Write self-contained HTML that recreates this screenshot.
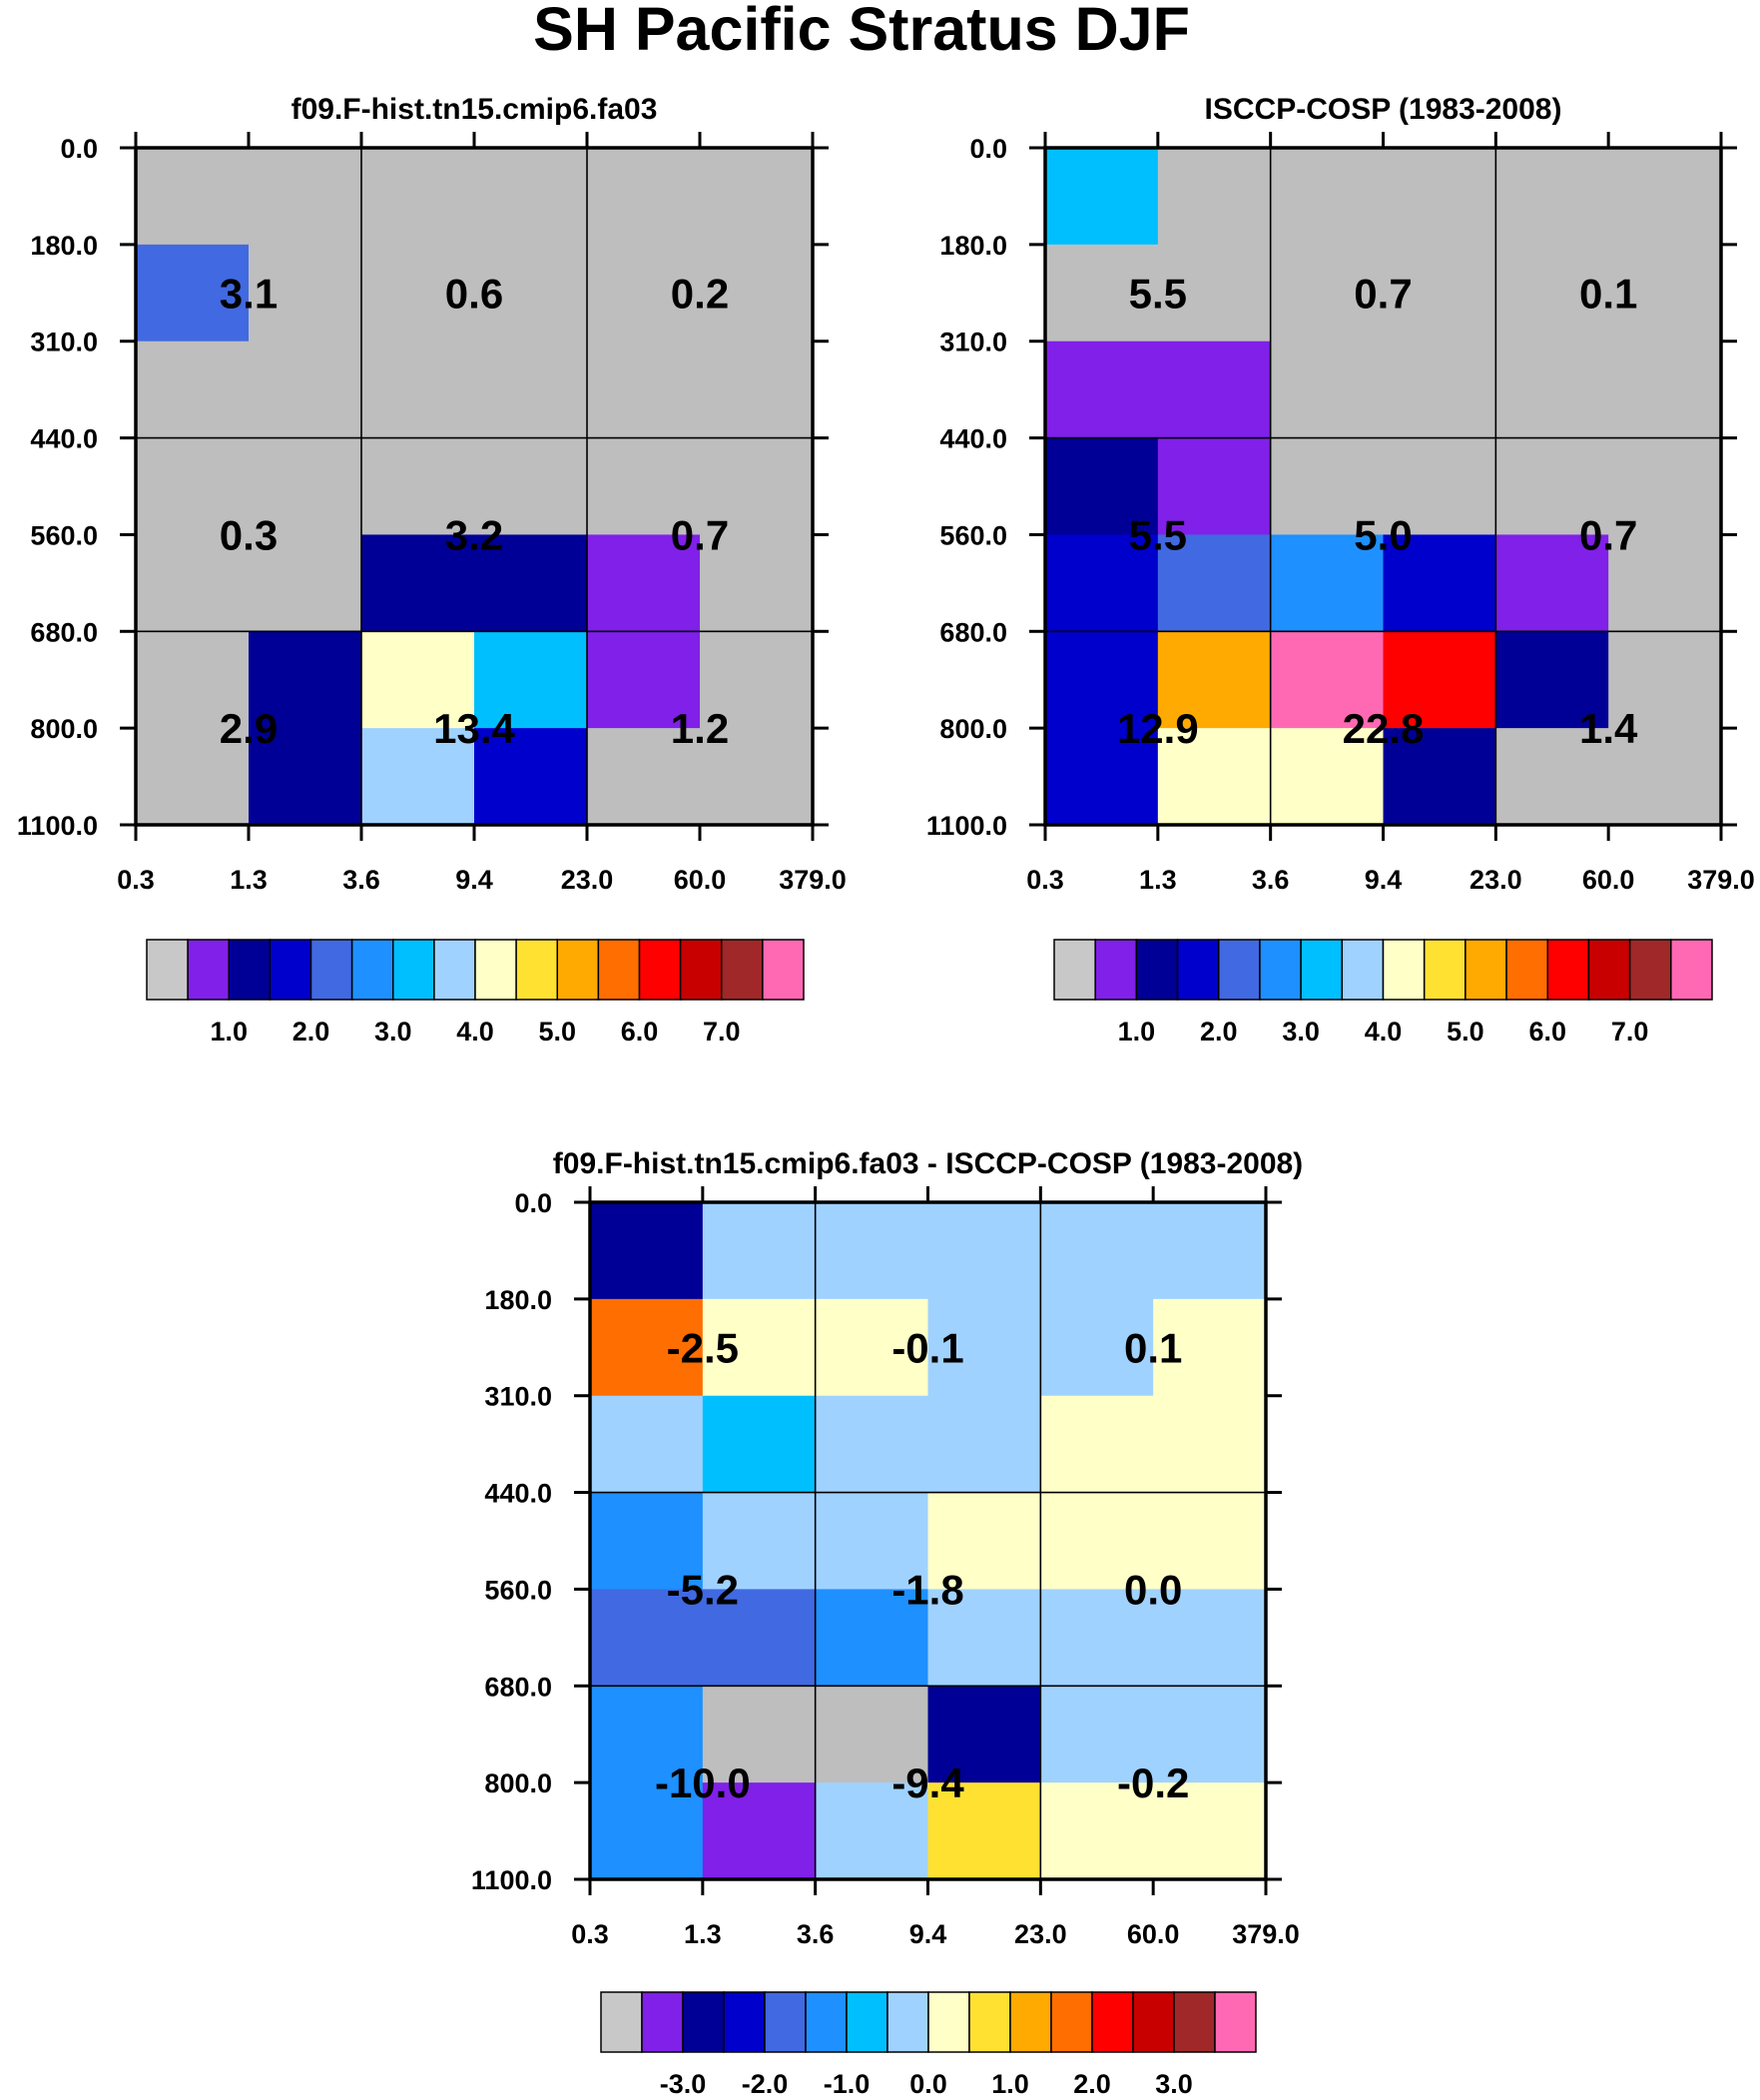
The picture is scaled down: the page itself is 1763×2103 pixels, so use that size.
<!DOCTYPE html>
<html><head><meta charset="utf-8">
<style>
html,body{margin:0;padding:0;background:#fff;}
svg{display:block;font-family:"Liberation Sans",sans-serif;font-weight:bold;}
</style></head>
<body>
<svg id="chart" width="1763" height="2103" viewBox="0 0 1763 2103" xmlns="http://www.w3.org/2000/svg">
<text x="863" y="50" font-size="61" text-anchor="middle">SH Pacific Stratus DJF</text>
</svg>
<script>
const palette = ["#BEBEBE","#8020E8","#000096","#0000CD","#4169E1","#1E90FF","#00BFFF","#A0D2FF","#FFFFC8","#FFE132","#FFAA00","#FF6E00","#FF0000","#C80000","#A02828","#FF69B4"];
const xTicks = ["0.3","1.3","3.6","9.4","23.0","60.0","379.0"];
const yTicks = ["0.0","180.0","310.0","440.0","560.0","680.0","800.0","1100.0"];
const cbLabelsTop = ["1.0","2.0","3.0","4.0","5.0","6.0","7.0"];
const cbLabelsDiff = ["-3.0","-2.0","-1.0","0.0","1.0","2.0","3.0"];
const cellsModel = [
 [0,0,0,0,0,0],[4,0,0,0,0,0],[0,0,0,0,0,0],[0,0,0,0,0,0],
 [0,0,2,2,1,0],[0,2,8,6,1,0],[0,2,7,3,0,0]];
const cellsObs = [
 [6,0,0,0,0,0],[0,0,0,0,0,0],[1,1,0,0,0,0],[2,1,0,0,0,0],
 [3,4,5,3,1,0],[3,10,15,12,2,0],[3,8,8,2,0,0]];
const cellsDiff = [
 [2,7,7,7,7,7],[11,8,8,7,7,8],[7,6,7,7,8,8],[5,7,7,8,8,8],
 [4,4,5,7,7,7],[5,0,0,2,7,7],[5,1,7,9,8,8]];
const valsModel = [["3.1","0.6","0.2"],["0.3","3.2","0.7"],["2.9","13.4","1.2"]];
const valsObs = [["5.5","0.7","0.1"],["5.5","5.0","0.7"],["12.9","22.8","1.4"]];
const valsDiff = [["-2.5","-0.1","0.1"],["-5.2","-1.8","0.0"],["-10.0","-9.4","-0.2"]];

const NS="http://www.w3.org/2000/svg";
const svg=document.getElementById('chart');
function mk(tag,attrs,parent){const e=document.createElementNS(NS,tag);for(const k in attrs)e.setAttribute(k,attrs[k]);(parent||svg).appendChild(e);return e;}

function panel(name,L,T,W,H,title,cells,vals,cb){
  const g=mk('g',{});
  
  
  const nc=6,nr=7;
  const xs=i=>L+W*i/nc, ys=j=>T+H*j/nr;
  const t=mk('text',{x:L+W/2,y:T-29,'font-size':30,'text-anchor':'middle'},g);
  t.textContent=title;
  
  
  for(let r=0;r<nr;r++)for(let c=0;c<nc;c++){
    const rc=mk('rect',{x:xs(c),y:ys(r),width:W/nc+0.5,height:H/nr+0.5,fill:palette[cells[r][c]]},g);
    
    
  }
  [2,4].forEach(c=>mk('line',{x1:xs(c),y1:T,x2:xs(c),y2:T+H,stroke:'#000','stroke-width':1.6},g));
  [3,5].forEach(r=>mk('line',{x1:L,y1:ys(r),x2:L+W,y2:ys(r),stroke:'#000','stroke-width':1.6},g));
  mk('rect',{x:L,y:T,width:W,height:H,fill:'none',stroke:'#000','stroke-width':3.5},g);
  xTicks.forEach((s,i)=>{
    mk('line',{x1:xs(i),y1:T,x2:xs(i),y2:T-16,stroke:'#000','stroke-width':3},g);
    mk('line',{x1:xs(i),y1:T+H,x2:xs(i),y2:T+H+16,stroke:'#000','stroke-width':3},g);
    const tx=mk('text',{x:xs(i),y:T+H+64,'font-size':27,'text-anchor':'middle'},g);
    tx.textContent=s;
    
    
  });
  yTicks.forEach((s,j)=>{
    mk('line',{x1:L,y1:ys(j),x2:L-16,y2:ys(j),stroke:'#000','stroke-width':3},g);
    mk('line',{x1:L+W,y1:ys(j),x2:L+W+16,y2:ys(j),stroke:'#000','stroke-width':3},g);
    const ty=mk('text',{x:L-38,y:ys(j)+10,'font-size':27,'text-anchor':'end'},g);
    ty.textContent=s;
    
    
  });
  const rowPos=[1.5,4,6];
  vals.forEach((row,r)=>row.forEach((v,c)=>{
    const tv=mk('text',{x:xs(1+2*c),y:ys(rowPos[r])+15,'font-size':42,'text-anchor':'middle'},g);
    tv.textContent=v;
    
    
  }));
  const cbg=mk('g',{},g);
  
  
  const bw=(cb.w)/16;
  palette.forEach((col,i)=>{
    mk('rect',{x:cb.x+i*bw,y:cb.y,width:bw,height:cb.h,fill:i===0?'#C8C8C8':col,stroke:'#000','stroke-width':1.5},cbg);
  });
  cb.labels.forEach((s,i)=>{
    const tl=mk('text',{x:cb.x+bw*(2+2*i),y:cb.y+cb.h+41,'font-size':27,'text-anchor':'middle'},cbg);
    tl.textContent=s;
    
    
  });
}
panel('model-panel',136,148,678,678,'f09.F-hist.tn15.cmip6.fa03',cellsModel,valsModel,{x:147,y:941,w:658,h:60,labels:cbLabelsTop});
panel('obs-panel',1047,148,677,678,'ISCCP-COSP (1983-2008)',cellsObs,valsObs,{x:1056,y:941,w:659,h:60,labels:cbLabelsTop});
panel('diff-panel',591,1204,677,678,'f09.F-hist.tn15.cmip6.fa03 - ISCCP-COSP (1983-2008)',cellsDiff,valsDiff,{x:602,y:1995,w:656,h:60,labels:cbLabelsDiff});
</script>
</body></html>
